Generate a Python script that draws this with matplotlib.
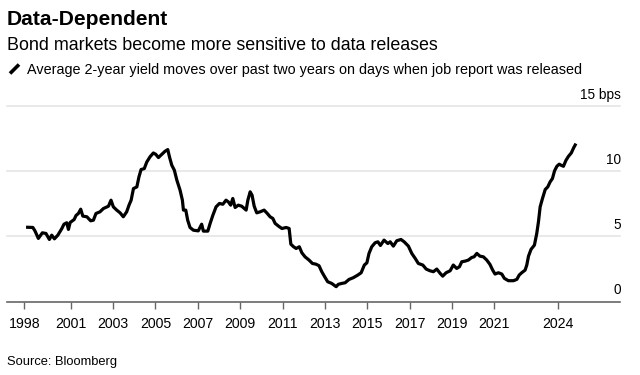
import matplotlib
matplotlib.use("Agg")
import matplotlib.pyplot as plt
import matplotlib.transforms as mtransforms

# ---- data ----
years = [
    1998.89, 1999.21, 1999.31, 1999.47, 1999.66, 1999.83, 1999.99, 2000.10, 2000.23, 2000.39,
    2000.58, 2000.68, 2000.81, 2000.89, 2000.97, 2001.16, 2001.25, 2001.36, 2001.47, 2001.57,
    2001.76, 2001.94, 2002.07, 2002.19, 2002.38, 2002.54, 2002.78, 2002.90, 2003.01, 2003.17,
    2003.33, 2003.48, 2003.64, 2003.75, 2003.85, 2003.96, 2004.12, 2004.22, 2004.32, 2004.47,
    2004.59, 2004.74, 2004.90, 2005.01, 2005.14, 2005.30, 2005.45, 2005.58, 2005.66, 2005.77,
    2005.89, 2006.01, 2006.16, 2006.27, 2006.32, 2006.43, 2006.52, 2006.63, 2006.79, 2007.02,
    2007.18, 2007.26, 2007.47, 2007.58, 2007.71, 2007.86, 2008.02, 2008.18, 2008.33, 2008.44,
    2008.55, 2008.65, 2008.76, 2008.91, 2009.07, 2009.28, 2009.36, 2009.47, 2009.56, 2009.66,
    2009.78, 2009.94, 2010.13, 2010.28, 2010.41, 2010.54, 2010.65, 2010.81, 2010.97, 2011.17,
    2011.31, 2011.39, 2011.52, 2011.64, 2011.79, 2011.91, 2012.06, 2012.25, 2012.41, 2012.57,
    2012.72, 2012.85, 2012.97, 2013.13, 2013.32, 2013.53, 2013.63, 2013.79, 2013.95, 2014.14,
    2014.34, 2014.55, 2014.71, 2014.86, 2014.98, 2015.08, 2015.21, 2015.37, 2015.50, 2015.62,
    2015.79, 2015.97, 2016.08, 2016.23, 2016.39, 2016.59, 2016.74, 2016.94, 2017.10, 2017.26,
    2017.41, 2017.62, 2017.78, 2017.96, 2018.12, 2018.28, 2018.44, 2018.56, 2018.72, 2018.91,
    2019.06, 2019.22, 2019.35, 2019.46, 2019.62, 2019.77, 2019.93, 2020.04, 2020.17, 2020.32,
    2020.48, 2020.64, 2020.79, 2020.92, 2021.03, 2021.19, 2021.35, 2021.47, 2021.66, 2021.90,
    2022.06, 2022.17, 2022.29, 2022.45, 2022.53, 2022.61, 2022.73, 2022.89, 2023.00, 2023.08,
    2023.16, 2023.27, 2023.40, 2023.52, 2023.63, 2023.74, 2023.84, 2023.95, 2024.06, 2024.15,
    2024.26, 2024.38, 2024.50, 2024.63, 2024.74, 2024.85,
]
bps = [
    5.71, 5.69, 5.43, 4.85, 5.28, 5.23, 4.77, 5.10, 4.82, 5.10,
    5.61, 5.94, 6.05, 5.54, 6.07, 6.30, 6.61, 6.76, 7.09, 6.56,
    6.51, 6.20, 6.25, 6.76, 6.89, 7.14, 7.32, 7.78, 7.27, 7.02,
    6.81, 6.51, 6.89, 7.40, 7.78, 8.67, 8.80, 9.57, 10.13, 10.20,
    10.71, 11.10, 11.40, 11.30, 11.05, 11.30, 11.53, 11.66, 11.10, 10.46,
    10.08, 9.31, 8.55, 7.78, 7.02, 7.02, 6.25, 5.69, 5.48, 5.43,
    5.94, 5.41, 5.41, 6.00, 6.63, 7.27, 7.53, 7.47, 7.78, 7.65,
    7.40, 7.91, 7.22, 7.40, 7.32, 7.02, 7.78, 8.42, 8.16, 7.32,
    6.81, 6.89, 7.02, 6.76, 6.51, 6.38, 6.00, 5.79, 5.61, 5.69,
    5.61, 4.41, 4.21, 4.08, 4.21, 3.75, 3.44, 3.19, 2.93, 2.88,
    2.76, 2.30, 1.96, 1.53, 1.40, 1.15, 1.33, 1.40, 1.45, 1.71,
    1.84, 2.04, 2.22, 2.81, 2.98, 3.70, 4.21, 4.52, 4.59, 4.31,
    4.72, 4.46, 4.59, 4.26, 4.67, 4.77, 4.59, 4.26, 3.70, 3.32,
    2.93, 2.81, 2.50, 2.37, 2.30, 2.50, 2.17, 1.96, 2.22, 2.37,
    2.81, 2.55, 2.68, 3.06, 3.11, 3.19, 3.39, 3.44, 3.70, 3.49,
    3.44, 3.19, 2.86, 2.42, 2.12, 2.22, 2.12, 1.79, 1.61, 1.61,
    1.71, 2.04, 2.22, 2.42, 2.81, 3.49, 4.01, 4.34, 5.23, 6.12,
    7.27, 7.91, 8.60, 8.80, 9.18, 9.44, 10.03, 10.38, 10.54, 10.46,
    10.38, 10.84, 11.15, 11.40, 11.79, 12.12,
]
xtick_pos = [1998.81, 2001, 2003, 2005, 2007, 2009, 2011, 2013, 2015, 2017, 2019, 2021, 2024]
xtick_labels = ["1998", "2001", "2003", "2005", "2007", "2009", "2011", "2013",
                "2015", "2017", "2019", "2021", "2024"]
ytick_vals = [0, 5, 10, 15]
ytick_labels = ["0", "5", "10", "15 bps"]

title = "Data-Dependent"
subtitle = "Bond markets become more sensitive to data releases"
legend_text = "Average 2-year yield moves over past two years on days when job report was released"
source = "Source: Bloomberg"

plt.rcParams['font.family'] = ['Liberation Sans', 'DejaVu Sans']

W, H = 640, 375
fig = plt.figure(figsize=(W / 100, H / 100), dpi=100)
fig.patch.set_facecolor("white")

ax_left, ax_right = 7, 620
ax_top, ax_bottom = 106, 301.7
ax = fig.add_axes([ax_left / W, 1 - ax_bottom / H, (ax_right - ax_left) / W, (ax_bottom - ax_top) / H])
ax.set_xlim(1997.99, 2026.93)
ax.set_ylim(0, 15)

for s in ["top", "right", "left"]:
    ax.spines[s].set_visible(False)
ax.spines["bottom"].set_color("#666666")
ax.spines["bottom"].set_linewidth(1.2)
ax.spines["bottom"].set_zorder(4)

# gridlines
for v in ytick_vals[1:]:
    ax.axhline(v, color="#e3e3e3", linewidth=1.1, zorder=1, clip_on=False)

ax.plot(years, bps, color="black", linewidth=2.3, solid_joinstyle="round",
        solid_capstyle="butt", zorder=3, clip_on=False)

ax.set_yticks([])
ax.set_xticks(xtick_pos)
ax.set_xticklabels(xtick_labels, fontsize=10.2, color="black")
ax.tick_params(axis="x", direction="out", length=5, width=1, color="#666666", pad=6)

# right-side value labels, placed above gridlines
offset = mtransforms.ScaledTranslation(0.01, 0.075, fig.dpi_scale_trans)
trans = mtransforms.blended_transform_factory(ax.transAxes, ax.transData) + offset
for v, lab in zip(ytick_vals, ytick_labels):
    ax.text(1.0, v, lab, transform=trans, ha="right", va="baseline", fontsize=9.8, color="black")

# header texts
fig.text(7 / W, 1 - 25 / H, title, fontsize=15.1, fontweight="bold", color="black", va="baseline")
fig.text(7 / W, 1 - 49.5 / H, subtitle, fontsize=12.9, color="black", va="baseline")
fig.text(27 / W, 1 - 74 / H, legend_text, fontsize=10.4, color="black", va="baseline")
# legend slash icon
fig.add_artist(plt.Line2D([10 / W, 19 / W], [1 - 73.5 / H, 1 - 64.5 / H], color="black",
                          linewidth=2.6, solid_capstyle="butt", transform=fig.transFigure))
fig.text(7 / W, 1 - 364.5 / H, source, fontsize=9.3, color="black", va="baseline")

fig.savefig("out.png", dpi=100, facecolor="white")
